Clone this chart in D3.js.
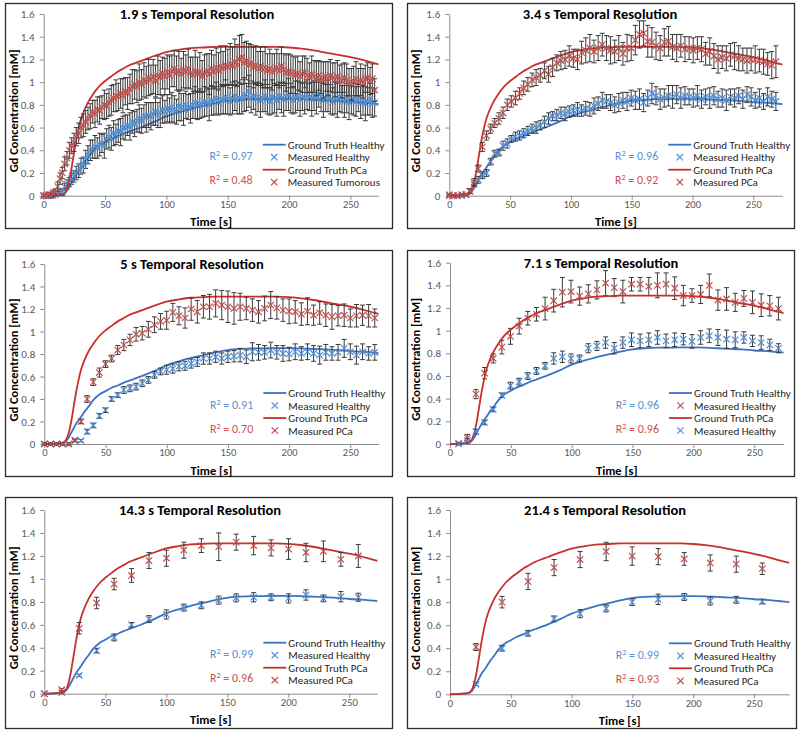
<!DOCTYPE html>
<html><head><meta charset="utf-8">
<script src="https://cdn.jsdelivr.net/npm/d3@7"></script>
<style>body{margin:0;background:#fff}svg{display:block}text{font-family:Carlito,Lato,sans-serif}</style>
</head><body><svg id="c" width="800" height="731"></svg>
<script>
// ---------- DATA ----------
const yTicks = [0, 0.2, 0.4, 0.6, 0.8, 1, 1.2, 1.4, 1.6];
const xTicks = [0, 50, 100, 150, 200, 250];
// ground truth curves (shared)
const gtTime    = [0,10,15,18,20,22,24,26,28,30,33,36,40,45,50,55,60,65,70,75,80,90,100,110,120,130,140,150,160,170,180,190,200,210,220,230,240,250,260,270,280];
const gtHealthy = [0,0.005,0.01,0.03,0.06,0.1,0.14,0.18,0.21,0.24,0.29,0.33,0.39,0.44,0.47,0.5,0.52,0.545,0.565,0.585,0.605,0.65,0.7,0.735,0.765,0.79,0.815,0.835,0.845,0.85,0.85,0.852,0.852,0.85,0.845,0.84,0.835,0.825,0.82,0.81,0.8];
const gtPCa     = [0,0.005,0.01,0.04,0.1,0.2,0.33,0.46,0.57,0.66,0.75,0.82,0.89,0.96,1.01,1.05,1.09,1.12,1.15,1.17,1.19,1.23,1.265,1.285,1.3,1.305,1.31,1.31,1.31,1.31,1.31,1.31,1.305,1.295,1.28,1.26,1.24,1.22,1.195,1.165,1.14];

// panel 1: 1.9 s
const p1H = [0,0,0,0.01,0,0.01,0.02,0.04,0.03,0.08,0.1,0.12,0.15,0.17,0.2,0.22,0.26,0.27,0.32,0.36,
0.4,0.41,0.43,0.42,0.45,0.46,0.44,0.5,0.52,0.5,0.55,0.54,0.57,0.56,0.6,0.6,0.62,0.61,0.65,0.63,
0.66,0.68,0.66,0.7,0.69,0.71,0.7,0.72,0.74,0.71,0.73,0.76,0.74,0.77,0.75,0.78,0.76,0.74,0.79,0.78,
0.76,0.8,0.78,0.77,0.8,0.82,0.79,0.81,0.8,0.83,0.82,0.8,0.84,0.83,0.86,0.82,0.85,0.84,0.87,0.85,
0.83,0.86,0.88,0.84,0.86,0.85,0.89,0.87,0.92,0.86,0.88,0.85,0.87,0.84,0.86,0.88,0.85,0.83,0.87,0.86,
0.84,0.88,0.86,0.85,0.87,0.89,0.86,0.84,0.87,0.88,0.85,0.87,0.86,0.89,0.87,0.85,0.88,0.86,0.9,0.87,
0.84,0.86,0.88,0.85,0.83,0.86,0.84,0.87,0.85,0.83,0.86,0.82,0.84,0.85,0.83,0.86,0.82,0.84,0.81,0.83,
0.85,0.82,0.82];
const p1HErr = [0.01,0.01,0.01,0.01,0.01,0.01,0.02,0.02,0.03,0.03,0.04,0.04,0.05,0.05,0.06,0.06,0.07,0.07,0.08,0.08,
0.09,0.08,0.1,0.09,0.1,0.08,0.11,0.09,0.1,0.1,0.11,0.09,0.1,0.12,0.1,0.11,0.09,0.12,0.1,0.11,
0.1,0.12,0.11,0.1,0.13,0.11,0.12,0.1,0.12,0.11,0.13,0.12,0.1,0.12,0.11,0.13,0.12,0.11,0.13,0.12,
0.14,0.12,0.11,0.13,0.12,0.14,0.12,0.13,0.11,0.13,0.12,0.14,0.13,0.12,0.14,0.11,0.13,0.12,0.15,0.13,
0.12,0.14,0.13,0.12,0.14,0.13,0.15,0.12,0.14,0.13,0.12,0.14,0.13,0.15,0.12,0.14,0.13,0.12,0.15,0.13,
0.14,0.12,0.13,0.15,0.12,0.14,0.13,0.12,0.14,0.13,0.15,0.12,0.14,0.13,0.12,0.15,0.13,0.14,0.12,0.13,
0.15,0.12,0.14,0.13,0.12,0.14,0.15,0.13,0.12,0.14,0.13,0.15,0.12,0.14,0.13,0.12,0.14,0.13,0.15,0.12,
0.14,0.13,0.12];
const p1P = [0,0,0.01,0,0.02,0.03,0.08,0.15,0.2,0.28,0.33,0.4,0.44,0.47,0.52,0.55,0.6,0.62,0.65,0.68,
0.7,0.74,0.72,0.76,0.75,0.78,0.8,0.79,0.82,0.84,0.86,0.88,0.87,0.9,0.88,0.92,0.9,0.94,0.96,0.98,
0.96,1,0.98,1.02,1,1.04,1.02,1.05,1.01,1.06,1.04,1.08,1.05,1.09,1.06,1.1,1.12,1.08,1.1,1.07,
1.11,1.09,1.12,1.08,1.06,1.1,1.07,1.09,1.05,1.08,1.1,1.07,1.12,1.09,1.13,1.1,1.14,1.12,1.15,1.13,
1.16,1.14,1.18,1.15,1.2,1.22,1.17,1.19,1.15,1.17,1.13,1.15,1.12,1.14,1.11,1.13,1.1,1.12,1.09,1.11,
1.13,1.1,1.14,1.11,1.08,1.1,1.07,1.09,1.06,1.08,1.05,1.07,1.09,1.06,1.04,1.07,1.05,1.03,1.06,1.04,
1.02,1.05,1.03,1.06,1.04,1.02,1.05,1.03,1.01,1.04,1.02,1,0.98,1.01,1.03,1,1.02,0.99,1.03,1.04,
1.01,1.03,0.93];
const p1PErr = [0.01,0.01,0.02,0.02,0.03,0.03,0.04,0.05,0.05,0.06,0.06,0.07,0.07,0.08,0.08,0.09,0.09,0.1,0.1,0.1,
0.11,0.1,0.12,0.11,0.12,0.1,0.13,0.11,0.12,0.13,0.12,0.14,0.12,0.13,0.15,0.12,0.14,0.13,0.15,0.13,
0.14,0.16,0.13,0.15,0.14,0.16,0.13,0.15,0.14,0.17,0.15,0.14,0.16,0.15,0.17,0.14,0.16,0.15,0.17,0.14,
0.16,0.15,0.17,0.14,0.16,0.18,0.15,0.17,0.14,0.16,0.15,0.18,0.16,0.15,0.17,0.16,0.18,0.15,0.17,0.16,
0.18,0.17,0.2,0.18,0.21,0.2,0.18,0.17,0.19,0.16,0.18,0.17,0.15,0.17,0.16,0.18,0.15,0.17,0.16,0.14,
0.16,0.15,0.17,0.14,0.16,0.15,0.17,0.14,0.16,0.15,0.13,0.16,0.14,0.15,0.13,0.16,0.14,0.15,0.13,0.14,
0.16,0.13,0.15,0.14,0.13,0.15,0.14,0.12,0.15,0.13,0.14,0.12,0.14,0.13,0.15,0.12,0.14,0.13,0.12,0.13,
0.12,0.13,0.1];

// panel 2: 3.4 s
const p2H = [0.01,0,0,0,0.01,0.04,0.1,0.14,0.18,0.2,0.3,0.37,0.38,0.44,0.46,0.5,0.52,0.53,0.55,0.57,
0.59,0.6,0.62,0.65,0.68,0.7,0.71,0.73,0.72,0.74,0.75,0.76,0.75,0.77,0.76,0.79,0.81,0.84,0.83,0.82,
0.8,0.82,0.84,0.83,0.86,0.84,0.85,0.82,0.86,0.9,0.88,0.85,0.86,0.88,0.87,0.89,0.86,0.88,0.87,0.86,
0.88,0.85,0.87,0.86,0.88,0.85,0.86,0.84,0.87,0.86,0.88,0.85,0.89,0.87,0.84,0.86,0.83,0.87,0.85,0.83];
const p2HErr = [0.01,0.01,0.01,0.01,0.01,0.02,0.02,0.03,0.03,0.03,0.03,0.03,0.03,0.04,0.04,0.03,0.04,0.04,0.04,0.04,
0.04,0.05,0.04,0.05,0.05,0.04,0.05,0.05,0.06,0.05,0.05,0.06,0.05,0.06,0.06,0.07,0.06,0.07,0.06,0.07,
0.07,0.08,0.07,0.08,0.07,0.08,0.09,0.08,0.07,0.09,0.08,0.09,0.08,0.09,0.1,0.08,0.09,0.08,0.07,0.08,
0.09,0.08,0.07,0.09,0.08,0.07,0.08,0.09,0.07,0.08,0.07,0.08,0.07,0.08,0.07,0.08,0.07,0.08,0.07,0.08];
const p2P = [0,0,0,0.01,0.01,0.04,0.12,0.24,0.43,0.53,0.59,0.64,0.68,0.73,0.8,0.83,0.86,0.9,0.95,0.98,
1.02,1.04,1.06,1.1,1.07,1.13,1.17,1.19,1.2,1.23,1.21,1.2,1.26,1.28,1.3,1.27,1.3,1.33,1.3,1.28,
1.27,1.3,1.25,1.3,1.3,1.37,1.42,1.43,1.36,1.35,1.32,1.3,1.35,1.36,1.31,1.3,1.32,1.29,1.3,1.28,
1.3,1.29,1.25,1.27,1.23,1.2,1.22,1.21,1.24,1.23,1.21,1.2,1.19,1.2,1.2,1.19,1.18,1.16,1.15,1.18];
const p2PErr = [0.01,0.01,0.01,0.01,0.01,0.02,0.03,0.03,0.04,0.04,0.04,0.04,0.05,0.05,0.05,0.05,0.06,0.05,0.06,0.06,
0.06,0.07,0.06,0.07,0.07,0.08,0.07,0.08,0.08,0.09,0.08,0.09,0.1,0.11,0.12,0.1,0.11,0.1,0.11,0.12,
0.1,0.11,0.1,0.12,0.11,0.13,0.12,0.11,0.14,0.13,0.12,0.11,0.12,0.13,0.11,0.12,0.1,0.11,0.1,0.11,
0.1,0.11,0.1,0.12,0.11,0.12,0.1,0.11,0.1,0.12,0.11,0.1,0.11,0.1,0.12,0.1,0.11,0.1,0.12,0.14];

// panel 3: 5 s
const p3H = [0,0,0,0,0,0.03,0.03,0.11,0.165,0.25,0.3,0.4,0.435,0.48,0.495,0.51,0.54,0.57,0.615,0.645,
0.66,0.67,0.69,0.695,0.715,0.73,0.76,0.76,0.775,0.76,0.775,0.78,0.79,0.775,0.82,0.815,0.815,0.835,0.815,0.805,
0.8,0.82,0.805,0.82,0.805,0.79,0.815,0.805,0.815,0.85,0.82,0.79,0.82,0.805,0.815];
const p3HErr = [0.01,0.01,0.01,0.01,0.01,0.01,0.01,0.02,0.02,0.02,0.02,0.02,0.02,0.03,0.03,0.03,0.03,0.03,0.03,0.03,
0.04,0.04,0.04,0.04,0.04,0.04,0.05,0.05,0.05,0.05,0.05,0.05,0.06,0.06,0.08,0.07,0.06,0.07,0.06,0.07,
0.06,0.07,0.06,0.07,0.07,0.08,0.07,0.06,0.07,0.08,0.07,0.08,0.07,0.06,0.07];
const p3P = [0,0,0,0,0,0.035,0.2,0.4,0.55,0.635,0.71,0.76,0.835,0.88,0.925,0.975,0.985,1.02,1.06,1.09,
1.1,1.17,1.14,1.12,1.2,1.175,1.22,1.22,1.25,1.235,1.22,1.205,1.22,1.205,1.19,1.175,1.205,1.235,1.21,1.19,
1.18,1.175,1.155,1.18,1.145,1.165,1.145,1.13,1.14,1.145,1.12,1.14,1.145,1.14,1.12];
const p3PErr = [0.01,0.01,0.01,0.01,0.01,0.01,0.02,0.03,0.03,0.04,0.03,0.03,0.04,0.05,0.05,0.06,0.06,0.07,0.07,0.07,
0.08,0.08,0.08,0.09,0.1,0.1,0.1,0.11,0.12,0.13,0.14,0.14,0.12,0.1,0.1,0.1,0.11,0.12,0.1,0.1,
0.11,0.1,0.1,0.12,0.09,0.1,0.1,0.11,0.09,0.1,0.08,0.1,0.09,0.1,0.08];

// panel 4: 7.1 s (starts at 7.1 s)
const p4H = [0,0.03,0.11,0.19,0.305,0.43,0.515,0.55,0.6,0.645,0.69,0.755,0.77,0.755,0.755,0.845,0.865,0.895,0.845,0.895,
0.92,0.91,0.92,0.94,0.91,0.92,0.925,0.905,0.94,0.955,0.94,0.925,0.92,0.94,0.91,0.895,0.875,0.845];
const p4HErr = [0.01,0.02,0.02,0.02,0.02,0.02,0.03,0.03,0.03,0.03,0.03,0.05,0.05,0.04,0.03,0.04,0.04,0.05,0.05,0.05,
0.06,0.06,0.06,0.06,0.06,0.06,0.05,0.06,0.06,0.06,0.07,0.08,0.07,0.05,0.05,0.06,0.05,0.04];
const p4P = [0.005,0.055,0.44,0.625,0.755,0.855,0.95,1.04,1.11,1.145,1.195,1.265,1.34,1.345,1.305,1.325,1.36,1.42,1.38,1.345,
1.41,1.41,1.39,1.4,1.41,1.375,1.31,1.31,1.32,1.4,1.27,1.28,1.25,1.285,1.25,1.225,1.22,1.195];
const p4PErr = [0.01,0.03,0.04,0.05,0.04,0.06,0.07,0.07,0.06,0.06,0.1,0.1,0.13,0.1,0.08,0.08,0.08,0.11,0.08,0.1,
0.06,0.06,0.08,0.11,0.1,0.1,0.09,0.06,0.08,0.1,0.09,0.1,0.08,0.07,0.1,0.1,0.09,0.1];

// panel 5: 14.3 s
const p5H = [0,0.01,0.16,0.375,0.49,0.6,0.65,0.69,0.75,0.77,0.815,0.835,0.84,0.84,0.83,0.86,0.83,0.845,0.84];
const p5HErr = [0,0.01,0.01,0.02,0.03,0.02,0.03,0.04,0.03,0.03,0.035,0.035,0.04,0.03,0.04,0.045,0.03,0.045,0.035];
const p5P = [0,0.035,0.57,0.79,0.955,1.03,1.16,1.18,1.25,1.29,1.28,1.32,1.29,1.27,1.26,1.23,1.24,1.17,1.2];
const p5PErr = [0,0.01,0.05,0.05,0.05,0.06,0.07,0.07,0.07,0.06,0.12,0.07,0.08,0.07,0.09,0.08,0.09,0.06,0.1];

// panel 6: 21.4 s (starts at 21.4 s)
const p6H = [0.087,0.4,0.53,0.655,0.7,0.745,0.8,0.825,0.845,0.81,0.82,0.805];
const p6HErr = [0.01,0.025,0.025,0.025,0.035,0.03,0.03,0.045,0.03,0.035,0.03,0.02];
const p6P = [0.41,0.8,0.98,1.1,1.17,1.24,1.2,1.195,1.175,1.14,1.13,1.09];
const p6PErr = [0.03,0.05,0.07,0.07,0.07,0.08,0.08,0.07,0.055,0.07,0.07,0.05];

const resolutions = [1.9, 3.4, 5, 7.1, 14.3, 21.4];
const firstIndex  = [0, 0, 0, 1, 0, 1];
const r2Healthy   = ["0.97", "0.96", "0.91", "0.96", "0.99", "0.99"];
const r2PCa       = ["0.48", "0.92", "0.70", "0.96", "0.96", "0.93"];
const legendLabels = [
  ["Ground Truth Healthy","Measured Healthy","Ground Truth PCa","Measured Tumorous"],
  ["Ground Truth Healthy","Measured Healthy","Ground Truth PCa","Measured PCa"],
  ["Ground Truth Healthy","Measured Healthy","Ground Truth PCa","Measured PCa"],
  ["Ground Truth Healthy","Measured Healthy","Ground Truth PCa","Measured Healthy"],
  ["Ground Truth Healthy","Measured Healthy","Ground Truth PCa","Measured PCa"],
  ["Ground Truth Healthy","Measured Healthy","Ground Truth PCa","Measured PCa"]
];
const seriesH = [p1H,p2H,p3H,p4H,p5H,p6H], seriesHErr = [p1HErr,p2HErr,p3HErr,p4HErr,p5HErr,p6HErr];
const seriesP = [p1P,p2P,p3P,p4P,p5P,p6P], seriesPErr = [p1PErr,p2PErr,p3PErr,p4PErr,p5PErr,p6PErr];

// ---------- LAYOUT / STYLE ----------
const layout = [
  {box:[5,3,392,228],  x0:43.7, pps:1.2267, xmax:273, y0:195.7, yTop:14,   titleX:197, legendSwap:false},
  {box:[407,3,794,228],x0:449.3,pps:1.216,  xmax:274, y0:195.7, yTop:14,   titleX:600, legendSwap:false},
  {box:[5,250,392,476],x0:44.3, pps:1.224,  xmax:273, y0:444,   yTop:264,  titleX:192, legendSwap:false},
  {box:[407,250,794,476],x0:450,pps:1.2173, xmax:274, y0:444,   yTop:262.7,titleX:601, legendSwap:true},
  {box:[5,497,392,728],x0:44.3, pps:1.22,   xmax:273, y0:693.7, yTop:510,  titleX:200, legendSwap:false},
  {box:[407,497,796,728],x0:450,pps:1.216,  xmax:279, y0:694.3, yTop:510,  titleX:605, legendSwap:false}
];
const C = {gtBlue:"#3b72c3", gtRed:"#c8302c", mBlue:"#4f8fd6", mRed:"#c0504d", r2Blue:"#5b8fd6", r2Red:"#d0504f",
           axis:"#8c8c8c", tick:"#595959", err:"#3a3a3a", frame:"#2b2b2b"};

const svg = d3.select("#c");
svg.append("rect").attr("width",800).attr("height",731).attr("fill","#fff");

function xMark(g, x, y, color, s) {
  g.append("path").attr("d",`M${x-s},${y-s}L${x+s},${y+s}M${x-s},${y+s}L${x+s},${y-s}`)
    .attr("stroke",color).attr("stroke-width",1.2).attr("fill","none");
}

layout.forEach((L, i) => {
  const g = svg.append("g");
  const [bx0,by0,bx1,by1] = L.box;
  g.append("rect").attr("x",bx0+0.5).attr("y",by0+0.5).attr("width",bx1-bx0).attr("height",by1-by0)
    .attr("fill","#fff").attr("stroke",C.frame).attr("stroke-width",1.3);

  const x = d3.scaleLinear().domain([0, L.xmax]).range([L.x0, L.x0 + L.pps*L.xmax]);
  const y = d3.scaleLinear().domain([0, 1.6]).range([L.y0, L.yTop]);

  // axes
  const ya = g.append("g").attr("transform",`translate(${L.x0},0)`)
    .call(d3.axisLeft(y).tickValues(yTicks).tickSize(4).tickSizeOuter(0).tickPadding(5).tickFormat(d3.format("~g")));
  const xa = g.append("g").attr("transform",`translate(0,${L.y0})`)
    .call(d3.axisBottom(x).tickValues(xTicks).tickSize(4).tickSizeOuter(0).tickPadding(1).tickFormat(d3.format("d")));
  [ya, xa].forEach(a => {
    a.select(".domain").attr("stroke",C.axis);
    a.selectAll(".tick line").attr("stroke",C.axis);
    a.selectAll(".tick text").attr("fill",C.tick).style("font-size","11px");
  });
  xa.selectAll(".tick text").style("font-size","10.5px");

  // clip
  const cid = "clip"+i;
  g.append("clipPath").attr("id",cid).append("rect")
    .attr("x",L.x0).attr("y",L.yTop-10).attr("width",L.pps*L.xmax).attr("height",L.y0-L.yTop+12);
  const plot = g.append("g");

  const line = d3.line().x(d=>x(d[0])).y(d=>y(d[1])).curve(d3.curveMonotoneX);
  const dt = resolutions[i];
  const mk = (vals, errs) => vals.map((v,k)=>({t:(k+firstIndex[i])*dt, v, e:errs[k]}));
  const H = mk(seriesH[i], seriesHErr[i]), P = mk(seriesP[i], seriesPErr[i]);

  function drawMeasured(data, color) {
    const eg = plot.append("g").attr("stroke",C.err).attr("stroke-width",1).attr("fill","none");
    data.forEach(d => {
      if (d.e <= 0) return;
      const xx = x(d.t), y1 = y(d.v+d.e), y2 = y(d.v-d.e);
      eg.append("path").attr("d",`M${xx},${y1}V${y2}M${xx-2.5},${y1}H${xx+2.5}M${xx-2.5},${y2}H${xx+2.5}`);
    });
    const mg = plot.append("g");
    data.forEach(d => xMark(mg, x(d.t), y(d.v), color, 3.2));
  }

  plot.append("path").datum(gtTime.map((t,k)=>[t,gtHealthy[k]])).attr("clip-path",`url(#${cid})`)
    .attr("d",line).attr("fill","none").attr("stroke",C.gtBlue).attr("stroke-width",1.8);
  if (L.legendSwap) drawMeasured(P, C.mRed); else drawMeasured(H, C.mBlue);
  plot.append("path").datum(gtTime.map((t,k)=>[t,gtPCa[k]])).attr("clip-path",`url(#${cid})`)
    .attr("d",line).attr("fill","none").attr("stroke",C.gtRed).attr("stroke-width",1.8);
  if (L.legendSwap) drawMeasured(H, C.mBlue); else drawMeasured(P, C.mRed);

  // title
  g.append("text").attr("x",L.titleX).attr("y",L.yTop+5).attr("text-anchor","middle")
    .style("font-size","14.5px").style("font-weight","bold").attr("fill","#000")
    .text(`${resolutions[i]} s Temporal Resolution`);
  // axis titles
  g.append("text").attr("transform",`translate(${bx0+13},${(L.y0+L.yTop)/2+6}) rotate(-90)`)
    .attr("text-anchor","middle").style("font-size","12.5px").style("font-weight","bold").text("Gd Concentration [mM]");
  g.append("text").attr("x",(L.x0 + L.x0 + L.pps*L.xmax)/2).attr("y",L.y0+30.5).attr("text-anchor","middle")
    .style("font-size","12.5px").style("font-weight","bold").text("Time [s]");

  // legend
  const lx = L.x0 + 219, rows = [-51, -38.5, -26, -13.5];
  const sym = L.legendSwap
    ? [["line",C.gtBlue],["x",C.mRed],["line",C.gtRed],["x",C.mBlue]]
    : [["line",C.gtBlue],["x",C.mBlue],["line",C.gtRed],["x",C.mRed]];
  rows.forEach((r,k) => {
    const yy = L.y0 + r;
    if (sym[k][0]==="line") g.append("line").attr("x1",lx).attr("x2",lx+23).attr("y1",yy).attr("y2",yy)
        .attr("stroke",sym[k][1]).attr("stroke-width",1.8);
    else xMark(g, lx+11.5, yy, sym[k][1], 3.2);
    g.append("text").attr("x",lx+25).attr("y",yy+4).style("font-size","11px").attr("fill","#262626")
      .text(legendLabels[i][k]);
  });
  // R² labels
  [[r2Healthy[i], C.r2Blue, -40],[r2PCa[i], C.r2Red, -16]].forEach(([v,col,off]) => {
    const t = g.append("text").attr("x",L.x0+209).attr("y",L.y0+off+4.5).attr("text-anchor","end")
      .style("font-size","12px").attr("fill",col);
    t.append("tspan").text("R");
    t.append("tspan").attr("dy",-4).style("font-size","8px").text("2");
    t.append("tspan").attr("dy",4).text(" = "+v);
  });
});
</script></body></html>
